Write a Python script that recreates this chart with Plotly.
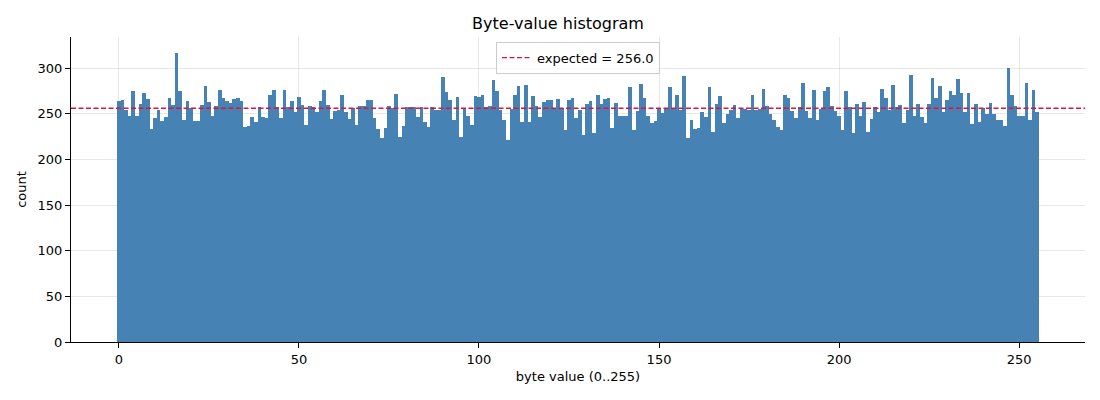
import plotly.graph_objects as go

# 每个字节值的出现次数
byte_values = list(range(256))
counts = [
    264, 265, 254, 248, 275, 248, 261, 273, 266, 233, 245, 254, 242, 246, 267, 260,
    317, 275, 243, 264, 256, 242, 242, 260, 280, 263, 248, 258, 276, 267, 264, 262,
    266, 267, 264, 235, 236, 246, 241, 257, 246, 245, 271, 276, 257, 245, 276, 257,
    264, 252, 268, 259, 238, 258, 257, 252, 264, 276, 259, 244, 253, 254, 271, 252,
    244, 256, 238, 258, 258, 265, 265, 245, 233, 223, 234, 258, 256, 272, 224, 236,
    257, 257, 257, 246, 257, 241, 235, 257, 254, 254, 290, 274, 265, 243, 268, 225,
    256, 248, 238, 269, 268, 270, 257, 258, 287, 275, 254, 243, 221, 255, 271, 280,
    241, 281, 241, 269, 258, 246, 263, 265, 265, 256, 266, 256, 232, 265, 267, 245,
    254, 227, 261, 264, 229, 271, 261, 266, 267, 234, 262, 248, 247, 248, 279, 232,
    253, 282, 267, 247, 240, 242, 256, 251, 256, 279, 256, 270, 254, 291, 223, 243,
    233, 234, 252, 246, 279, 230, 261, 269, 240, 250, 254, 259, 245, 255, 255, 254,
    271, 254, 255, 277, 258, 250, 243, 235, 232, 271, 267, 253, 245, 257, 284, 253,
    245, 276, 243, 255, 275, 279, 258, 253, 247, 232, 275, 257, 229, 261, 248, 263,
    230, 244, 257, 252, 277, 267, 254, 281, 257, 259, 240, 254, 292, 248, 261, 246,
    240, 261, 289, 267, 280, 252, 265, 275, 270, 288, 273, 252, 273, 239, 261, 241,
    256, 250, 262, 250, 243, 243, 236, 300, 271, 258, 247, 247, 284, 243, 276, 252,
]
expected = 256.0

x_ticks = [0, 50, 100, 150, 200, 250]
y_ticks = [0, 50, 100, 150, 200, 250, 300]

x_range = [-13.3, 268.3]
y_range = [0, 334]

fig = go.Figure()

fig.add_trace(go.Bar(
    x=byte_values,
    y=counts,
    width=1.0,
    marker=dict(color="#4682B4", line=dict(width=0)),
    showlegend=False,
    hovertemplate="byte %{x}: %{y}<extra></extra>",
))

# 期望值虚线
fig.add_trace(go.Scatter(
    x=x_range,
    y=[expected, expected],
    mode="lines",
    line=dict(color="crimson", width=1.3, dash="5px,2.5px"),
    name=f"expected = {expected:.1f}",
))

grid = "rgba(176,176,176,0.3)"
# 页面 body 有 8px 边距，边距里已经扣掉
fig.update_layout(
    width=1100,
    height=400,
    title=dict(text="Byte-value histogram", x=0.5, xanchor="center",
               y=0.9625, yanchor="middle", font=dict(size=16, color="black")),
    font=dict(family="DejaVu Sans, sans-serif", size=13, color="black"),
    plot_bgcolor="white",
    paper_bgcolor="white",
    margin=dict(l=63, r=23, t=29, b=66),
    bargap=0,
    legend=dict(x=0.5, y=0.985, xanchor="center", yanchor="top",
                bgcolor="rgba(255,255,255,0.8)", bordercolor="#cccccc",
                borderwidth=1, font=dict(size=13),
                tracegroupgap=0, itemwidth=30),
)

fig.update_xaxes(
    range=x_range,
    tickvals=x_ticks,
    showgrid=True, gridcolor=grid, gridwidth=1,
    zeroline=False,
    showline=True, linecolor="black", linewidth=1,
    ticks="outside", ticklen=5, tickcolor="black",
    layer="above traces",
    title=dict(text="byte value (0..255)", font=dict(size=13), standoff=6),
)
fig.update_yaxes(
    range=y_range,
    tickvals=y_ticks,
    showgrid=True, gridcolor=grid, gridwidth=1,
    zeroline=False,
    showline=True, linecolor="black", linewidth=1,
    ticks="outside", ticklen=5, tickcolor="black",
    layer="above traces",
    title=dict(text="count", font=dict(size=13), standoff=8),
)

fig.write_html("out.html")
